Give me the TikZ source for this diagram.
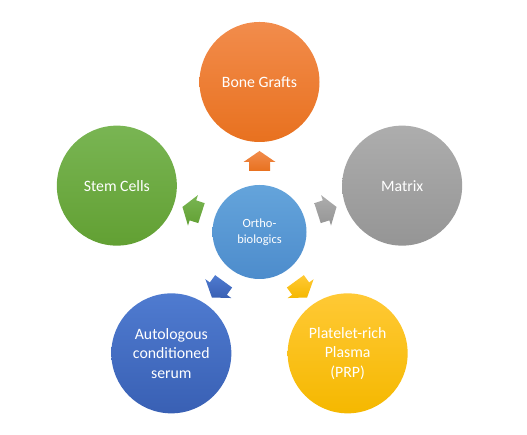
\documentclass[tikz,border=0pt]{standalone}
\usepackage{fontspec}
\setmainfont{Carlito}
\usetikzlibrary{calc}
\definecolor{orT}{HTML}{F28C4C}\definecolor{orB}{HTML}{E8711F}
\definecolor{grT}{HTML}{79B553}\definecolor{grB}{HTML}{62A033}
\definecolor{gyT}{HTML}{ADADAD}\definecolor{gyB}{HTML}{959595}
\definecolor{blT}{HTML}{4F7BD0}\definecolor{blB}{HTML}{3960B4}
\definecolor{yeT}{HTML}{FFC935}\definecolor{yeB}{HTML}{F5B800}
\definecolor{ceT}{HTML}{64A4DB}\definecolor{ceB}{HTML}{4D8CCC}
\tikzset{
  outer/.style={circle,minimum size=120pt,inner sep=0pt,text=white,align=center,
    font=\fontsize{15.8}{19.5}\selectfont},
  centre/.style={circle,minimum size=94pt,inner sep=0pt,text=white,align=center,
    font=\fontsize{12.5}{16}\selectfont,top color=ceT,bottom color=ceB},
}
\begin{document}
\begin{tikzpicture}[x=1pt,y=1pt]
\useasboundingbox (0,0) rectangle (527,435);
\coordinate (C) at (259.5,203);
\node[centre] (ortho) at (C) {Ortho-\\biologics};
\node[outer,top color=orT,bottom color=orB] (bone) at ($(C)+(90:150)$) {Bone Grafts};
\node[outer,top color=grT,bottom color=grB] (stem) at ($(C)+(162:150)$) {Stem Cells};
\node[outer,top color=gyT,bottom color=gyB] (matrix) at ($(C)+(18:150)$) {Matrix};
\node[outer,top color=blT,bottom color=blB] (acs) at ($(C)+(234:150)$) {Autologous\\conditioned\\serum};
\node[outer,top color=yeT,bottom color=yeB] (prp) at ($(C)+(306:150)$) {Platelet-rich\\Plasma\\(PRP)};
\foreach \a/\ct/\cb in {90/orT/orB,162/grT/grB,18/gyT/gyB,234/blT/blB,306/yeT/yeB}{
  \begin{scope}[shift={(C)},rotate=\a]
    \shade[top color=\ct,bottom color=\cb]
      (61,-10.5) -- (70,-10.5) -- (70,-16) -- (81,0) -- (70,16) -- (70,10.5) -- (61,10.5) -- cycle;
  \end{scope}
}
\end{tikzpicture}
\end{document}
